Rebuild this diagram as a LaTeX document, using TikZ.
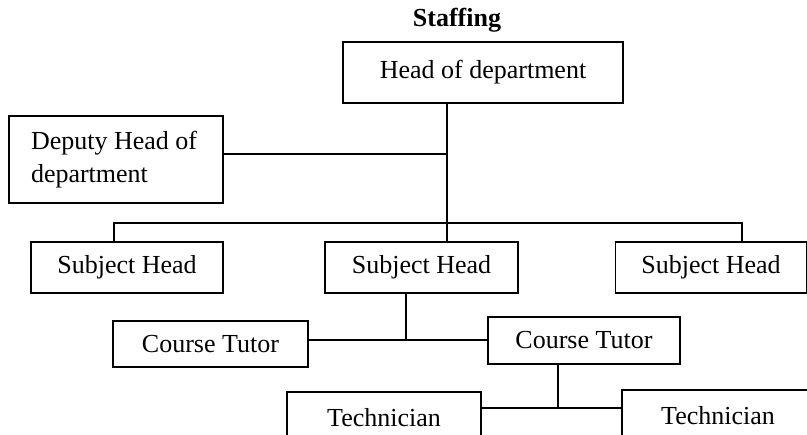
\documentclass[tikz,border=0pt]{standalone}
\usepackage{fontspec}
\setmainfont{Liberation Serif}
\usetikzlibrary{calc}

\begin{document}
\begin{tikzpicture}[x=1pt, y=1pt, line width=1.6pt,
	box/.style={draw, rectangle, inner sep=0pt, font=\fontsize{26}{33}\selectfont}]
	\clip (0,0) rectangle (807,435);
	
	%title
	\node (title) at (457,415) {\fontsize{26}{31}\selectfont\bfseries Staffing};
	
	%boxes
	\node[box, minimum width=280pt, minimum height=61pt] (head) at (483,362.5) {Head of department};
	\node[box, minimum width=214pt, minimum height=87pt, text width=192pt, inner xsep=11pt, align=flush left] (deputy) at (116,275.5) {\hspace*{11pt}Deputy Head of\\\hspace*{11pt}department};
	\node[box, minimum width=192pt, minimum height=51pt] (sh1) at (127,167.5) {Subject Head};
	\node[box, minimum width=193pt, minimum height=51pt] (sh2) at (421.5,167.5) {Subject Head};
	\node[box, minimum width=191pt, minimum height=51pt] (sh3) at (711,167.5) {Subject Head};
	\node[box, minimum width=195pt, minimum height=46pt] (ct1) at (210.5,91) {Course Tutor};
	\node[box, minimum width=192pt, minimum height=47pt] (ct2) at (584,94.5) {Course Tutor};
	\node[box, minimum width=194pt, minimum height=51pt] (tech1) at (384,17.5) {Technician};
	\node[box, minimum width=192pt, minimum height=51pt] (tech2) at (718,19.5) {Technician};
	
	%junctions
	\coordinate (spine) at (447,212);
	\coordinate (dep) at (447,281);
	\coordinate (barL) at (114,212);
	\coordinate (barR) at (742,212);
	\coordinate (tut) at (406,95);
	\coordinate (tec) at (558,27);
	
	%lines
	\draw (head.south -| spine) -- (sh2.north -| spine);
	\draw (dep -| deputy.east) -- (dep);
	\draw (barL |- sh1.north) -- (barL) -- (barR) -- (barR |- sh3.north);
	\draw (tut |- sh2.south) -- (tut);
	\draw (tut -| ct1.east) -- (tut -| ct2.west);
	\draw (tec |- ct2.south) -- (tec);
	\draw (tec -| tech1.east) -- (tec -| tech2.west);
\end{tikzpicture}
\end{document}
